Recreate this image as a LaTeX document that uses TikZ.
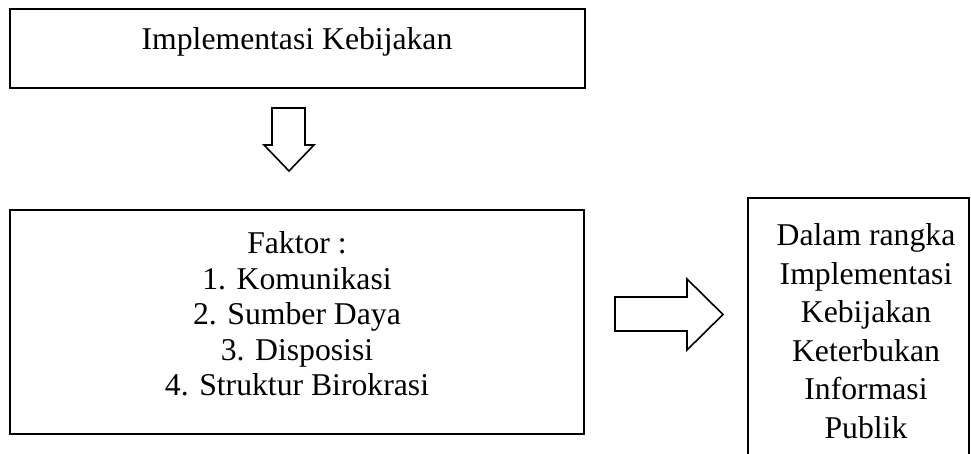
\documentclass[tikz,border=0pt]{standalone}
\usepackage{fontspec}
\setmainfont{Liberation Serif}
\begin{document}
\begin{tikzpicture}[x=1bp,y=-1bp,
  box/.style={draw=black,line width=2.2bp},
  blockarrow/.style={draw=black,line width=1.6bp,line join=miter,fill=white},
  txt/.style={align=center,inner sep=0pt,font=\fontsize{31.7bp}{37bp}\selectfont}]
\useasboundingbox (0,0) rectangle (971,454);
\clip (0,0) rectangle (971,454);
% top box
\draw[box] (10,9) rectangle (585,88);
\node[txt] (top) at (297,42) {Implementasi Kebijakan};
% down block arrow
\draw[blockarrow] (272,108) -- (305,108) -- (305,145) -- (314,145) -- (289,171)
  -- (264,145) -- (272,145) -- cycle;
% middle box
\draw[box] (10,210) rectangle (584,434);
\node[txt,font=\fontsize{31.7bp}{35.5bp}\selectfont] (mid) at (297,314)
  {Faktor :\\1. Komunikasi\\2. Sumber Daya\\3. Disposisi\\4. Struktur Birokrasi};
% right block arrow
\draw[blockarrow] (615,297) -- (687,297) -- (687,279) -- (723,314.5) -- (687,350)
  -- (687,331) -- (615,331) -- cycle;
% right box
\draw[box] (748,198) rectangle (969,470);
\node[txt,font=\fontsize{31.7bp}{38.5bp}\selectfont] (res) at (866,331)
  {Dalam rangka\\Implementasi\\Kebijakan\\Keterbukan\\Informasi\\Publik};
\end{tikzpicture}
\end{document}
